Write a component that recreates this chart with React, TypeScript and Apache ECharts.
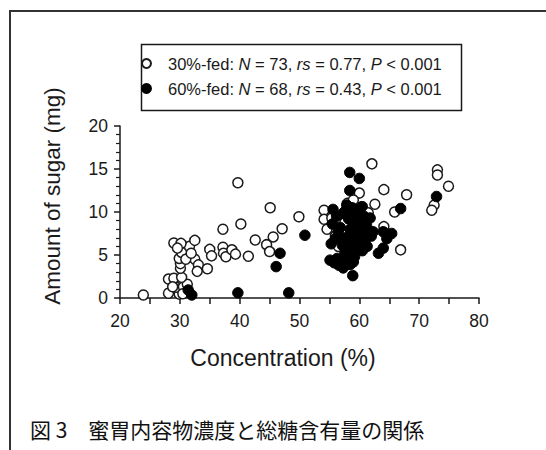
import React, { useEffect, useRef } from "react";
import * as echarts from "echarts";

// 30%-fed (open circles): concentration (%) and amount of sugar (mg)
const fed30Conc = [
  23.9, 28.1, 29.9, 29.4, 30.6, 31.25, 28.1, 29.0, 30.3, 30.1, 30.1, 29.9, 30.3, 31.6, 29.0,
  30.2, 32.5, 32.5, 33.1, 32.9, 34.6, 35.0, 35.3, 37.2, 37.3, 37.7, 38.7, 39.3, 37.2, 39.7,
  40.2, 41.45, 42.6, 44.5, 45.0, 45.6, 47.1, 45.1, 49.9, 54.1, 54.1, 55.4, 55.6, 62.1, 73.05,
  73.05, 74.9, 60.0, 64.1, 67.9, 62.6, 65.9, 72.5, 72.1, 61.0, 64.1, 66.9, 57.0, 58.5, 59.5,
  60.5, 56.5, 58.0, 30.5, 31.0, 28.8, 29.6, 31.9, 56.0, 59.0, 61.5, 57.6, 54.6,
];
const fed30Sugar = [
  0.35, 0.55, 0.45, 1.25, 1.3, 1.6, 2.2, 2.3, 2.4, 3.45, 4.0, 4.6, 5.3, 6.0, 6.4,
  6.35, 6.7, 4.5, 3.85, 3.1, 3.4, 5.65, 4.9, 5.9, 5.2, 4.8, 5.6, 5.1, 8.0, 13.4,
  8.6, 4.85, 6.75, 6.2, 5.4, 7.1, 8.05, 10.5, 9.45, 10.2, 9.15, 9.3, 7.9, 15.6, 14.9,
  14.3, 13.0, 12.2, 12.6, 12.0, 10.9, 10.0, 10.8, 10.2, 9.4, 8.3, 5.6, 7.5, 10.3, 8.2,
  10.6, 6.0, 11.0, 0.5, 4.5, 1.3, 5.8, 5.2, 7.2, 11.4, 9.9, 8.8, 8.0,
];

// 60%-fed (filled circles)
const fed60Conc = [
  31.4, 32.0, 39.7, 48.2, 46.1, 46.75, 50.9, 55.6, 57.3, 58.4, 60.0, 58.4, 72.9, 66.9, 58.9,
  63.2, 64.0, 62.3, 64.0, 65.4, 64.6, 55.1,
  55.5, 56.2, 56.8, 57.0, 57.5, 57.9, 58.2, 58.5, 58.8, 59.0, 59.3, 59.6, 60.0, 60.4, 60.8,
  61.2, 61.5, 57.2, 57.6, 58.0, 58.3, 58.6, 59.0, 59.2, 59.5, 59.8, 60.2, 60.5, 60.9, 61.3,
  55.8, 56.3, 56.6, 57.0, 57.3, 57.8, 58.1, 58.5, 59.0, 59.4, 56.0, 55.3, 56.5, 60.6, 61.8, 62.0,
];
const fed60Sugar = [
  0.93, 0.35, 0.6, 0.6, 3.65, 5.2, 7.3, 10.3, 9.85, 14.6, 13.9, 12.5, 11.8, 10.4, 2.6,
  5.2, 5.8, 7.7, 7.7, 7.5, 6.9, 4.4,
  8.6, 9.5, 8.2, 7.0, 10.0, 10.8, 9.2, 8.0, 10.5, 9.8, 8.7, 10.2, 9.0, 10.6, 9.5,
  8.4, 7.6, 6.1, 5.2, 6.6, 7.3, 5.8, 6.9, 4.8, 7.6, 6.2, 7.1, 5.5, 6.6, 6.0,
  4.1, 4.6, 3.8, 4.4, 3.5, 4.0, 4.9, 3.9, 4.2, 5.6, 6.9, 6.3, 7.8, 8.1, 9.3, 7.2,
];

const xTicks = [20, 30, 40, 50, 60, 70, 80];
const yTicks = [0, 5, 10, 15, 20];

const seriesNames = ["30%-fed", "60%-fed"];
const legendStats = [
  { n: "73", rs: "0.77", p: "< 0.001" },
  { n: "68", rs: "0.43", p: "< 0.001" },
];

const FONT = "'Liberation Sans', Arial, sans-serif";
const INK = "#1a1a1a";

export default function App() {
  const ref = useRef<HTMLDivElement>(null);

  useEffect(() => {
    if (!ref.current) return;
    const chart = echarts.init(ref.current, undefined, { renderer: "svg" });

    const d30 = fed30Conc.map((x, i) => [x, fed30Sugar[i]]);
    const d60 = fed60Conc.map((x, i) => [x, fed60Sugar[i]]);

    const legendFormatter = (name: string) => {
      const idx = seriesNames.indexOf(name);
      const s = legendStats[idx];
      return `{n|${name}: }{i|N}{n| = ${s.n}, }{i|rs}{n| = ${s.rs}, }{i|P}{n| ${s.p}}`;
    };

    chart.setOption({
      animation: false,
      backgroundColor: "#ffffff",
      grid: { left: 120, right: 67, top: 126, bottom: 152, containLabel: false },
      legend: {
        orient: "vertical",
        left: 141,
        top: 55,
        itemWidth: 9,
        itemHeight: 9,
        itemGap: 8,
        padding: 0,
        icon: "circle",
        data: seriesNames,
        formatter: legendFormatter,
        textStyle: {
          color: INK,
          fontFamily: FONT,
          fontSize: 16,
          lineHeight: 17,
          padding: [0, 0, 0, 12],
          rich: {
            n: { fontFamily: FONT, fontSize: 16.5, color: INK, lineHeight: 17 },
            i: { fontFamily: FONT, fontSize: 16.5, color: INK, fontStyle: "italic", lineHeight: 17 },
          },
        },
        selectedMode: false,
      },
      xAxis: {
        type: "value",
        min: 20,
        max: 80,
        interval: 5,
        axisLine: { show: true, lineStyle: { color: INK, width: 1.5 } },
        axisTick: { show: true, inside: false, length: 6, lineStyle: { color: INK, width: 1.5 } },
        axisLabel: {
          margin: 14,
          color: INK,
          fontFamily: FONT,
          fontSize: 17.5,
          formatter: (v: number) => (xTicks.includes(v) ? String(v) : ""),
        },
        splitLine: { show: false },
      },
      yAxis: {
        type: "value",
        min: 0,
        max: 20,
        interval: 5,
        axisLine: { show: true, lineStyle: { color: INK, width: 1.5 } },
        axisTick: { show: true, inside: false, length: 6, lineStyle: { color: INK, width: 1.5 } },
        minorTick: { show: true, splitNumber: 5, length: 4, lineStyle: { color: INK, width: 1.2 } },
        minorSplitLine: { show: false },
        axisLabel: {
          margin: 12,
          color: INK,
          fontFamily: FONT,
          fontSize: 17.5,
          formatter: (v: number) => (yTicks.includes(v) ? String(v) : ""),
        },
        splitLine: { show: false },
      },
      series: [
        {
          name: seriesNames[0],
          type: "scatter",
          data: d30,
          symbol: "circle",
          symbolSize: 10,
          itemStyle: { color: "#ffffff", borderColor: INK, borderWidth: 1.5, opacity: 1 },
          z: 2,
        },
        {
          name: seriesNames[1],
          type: "scatter",
          data: d60,
          symbol: "circle",
          symbolSize: 10.5,
          itemStyle: { color: "#000000", borderColor: "#000000", borderWidth: 1, opacity: 1 },
          z: 3,
        },
      ],
      graphic: [
        // outer frame (top and left edges)
        { type: "line", shape: { x1: 9, y1: 11, x2: 546, y2: 11 }, style: { stroke: "#333", lineWidth: 2 }, silent: true },
        { type: "line", shape: { x1: 10, y1: 10, x2: 10, y2: 450 }, style: { stroke: "#333", lineWidth: 2 }, silent: true },
        // legend box
        {
          type: "rect",
          shape: { x: 141.5, y: 44.5, width: 320, height: 66 },
          style: { fill: "none", stroke: INK, lineWidth: 1.5 },
          silent: true,
          z: 1,
        },
        // axis titles
        {
          type: "text",
          x: 283,
          y: 358,
          style: {
            text: "Concentration (%)",
            fontFamily: FONT,
            fontSize: 23,
            fill: INK,
            align: "center",
            verticalAlign: "middle",
          },
          silent: true,
        },
        {
          type: "text",
          x: 52,
          y: 196,
          rotation: Math.PI / 2,
          style: {
            text: "Amount of sugar (mg)",
            fontFamily: FONT,
            fontSize: 22.5,
            fill: INK,
            align: "center",
            verticalAlign: "middle",
          },
          silent: true,
        },
        // caption
        {
          type: "text",
          x: 30,
          y: 429,
          style: {
            text: "図 3　蜜胃内容物濃度と総糖含有量の関係",
            fontFamily: "'Noto Sans CJK JP', sans-serif",
            fontSize: 21,
            fill: "#111",
            align: "left",
            verticalAlign: "middle",
          },
          silent: true,
        },
      ],
    });

    return () => chart.dispose();
  }, []);

  return (
    <div
      ref={ref}
      style={{ position: "fixed", left: 0, top: 0, width: 546, height: 450, background: "#fff" }}
    />
  );
}
